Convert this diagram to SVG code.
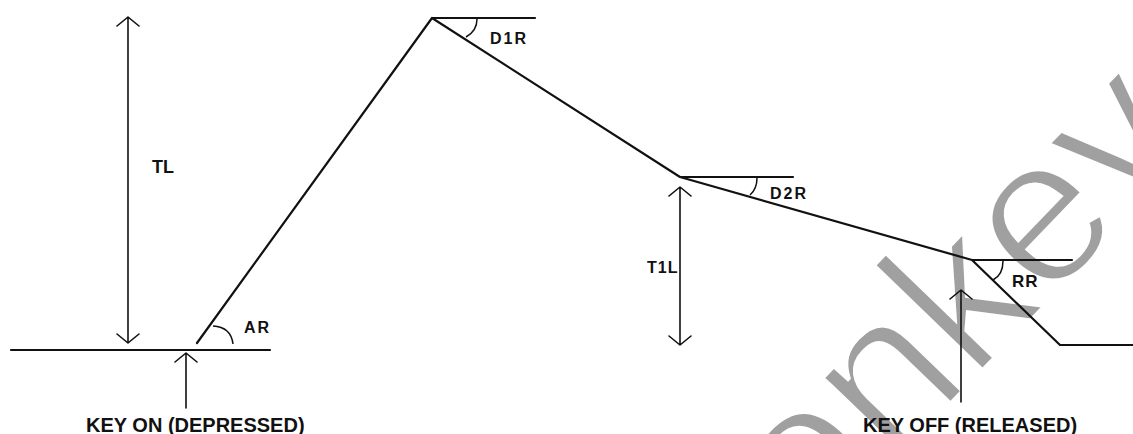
<svg xmlns="http://www.w3.org/2000/svg" width="1133" height="434" viewBox="0 0 1133 434">
  <style>
    .ln { stroke: #111; stroke-width: 2.2; fill: none; stroke-linecap: round; stroke-linejoin: round; }
    .dim { stroke: #111; stroke-width: 1.6; fill: none; stroke-linecap: round; stroke-linejoin: round; }
    .arc { stroke: #111; stroke-width: 1.5; fill: none; }
    .lbl { font-family: "Liberation Sans", Arial, sans-serif; font-weight: bold; fill: #111; }
    .wm { font-family: "Liberation Sans", Arial, sans-serif; font-size: 210px; fill: #a0a0a0; stroke: #fff; stroke-width: 5; paint-order: normal; }
  </style>
  <rect width="1133" height="434" fill="#fff"/>
  <g id="watermark">
    <text class="wm" transform="translate(689 675) rotate(-46)">monkey</text>
  </g>
  <g id="connectors">
    <path id="envelope" class="ln" d="M11,350 H270 M197,343 L432,18 H535 M432,18 L680,177 H793 M680,177 L972,260 H1072 M972,260 L1060,345 H1133"/>
    <path id="tl-arrow" class="dim" d="M128,17 V343 M117,26 L128,17 L139,26 M117,334 L128,343 L139,334"/>
    <path id="t1l-arrow" class="dim" d="M680,187 V345 M669,196 L680,187 L691,196 M669,336 L680,345 L691,336"/>
    <path id="keyon-arrow" class="dim" d="M186,408 V353 M175,362 L186,353 L197,362"/>
    <path id="keyoff-arrow" class="dim" d="M961,402 V290 M950,299 L961,290 L972,299"/>
    <path id="ar-arc" class="arc" d="M213,326 Q231,327 233,344"/>
    <path id="d1r-arc" class="arc" d="M477,19 Q477,31 466,37"/>
    <path id="d2r-arc" class="arc" d="M757,178 Q757,189 750,195"/>
    <path id="rr-arc" class="arc" d="M1003,261 Q1003,275 993,280"/>
  </g>
  <g id="labels">
    <text class="lbl" x="152" y="173" font-size="18">TL</text>
    <text class="lbl" x="244" y="333" font-size="16" letter-spacing="2">AR</text>
    <text class="lbl" x="490" y="44" font-size="16" letter-spacing="2">D1R</text>
    <text class="lbl" x="770" y="199" font-size="16" letter-spacing="2">D2R</text>
    <text class="lbl" x="647" y="273" font-size="16" letter-spacing="1">T1L</text>
    <text class="lbl" x="1012" y="287" font-size="17" letter-spacing="1">RR</text>
    <text class="lbl" x="86" y="432" font-size="20">KEY ON (DEPRESSED)</text>
    <text class="lbl" x="863" y="432" font-size="20">KEY OFF (RELEASED)</text>
  </g>
</svg>
